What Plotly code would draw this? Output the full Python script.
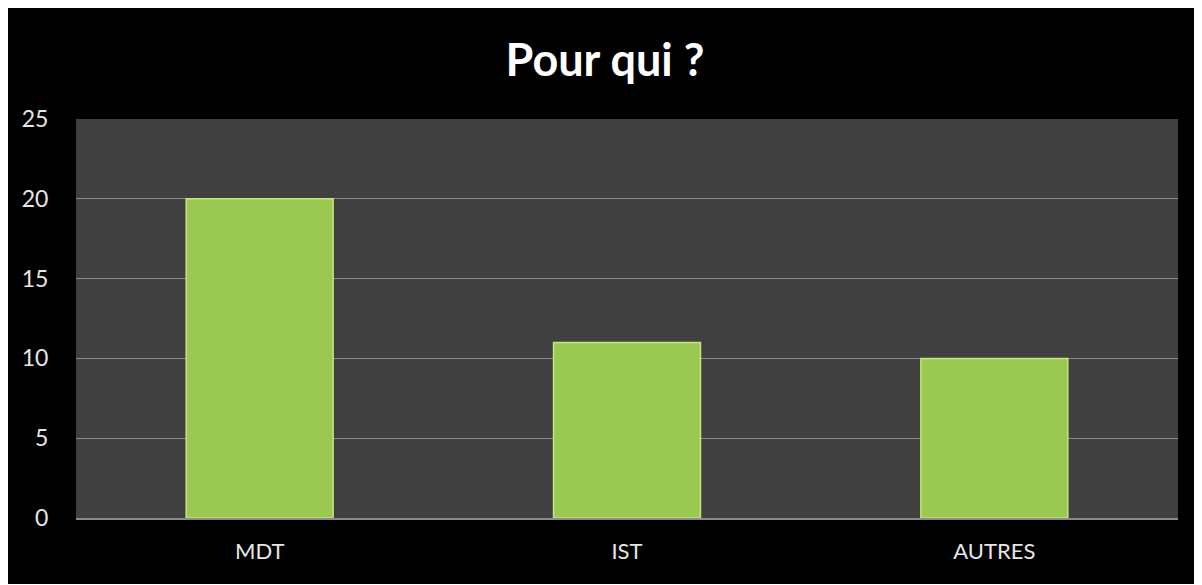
import plotly.graph_objects as go

# données
categories = ["MDT", "IST", "AUTRES"]
valeurs = [20, 11, 10]
y_ticks = [0, 5, 10, 15, 20, 25]

COULEURS = {
    "fond": "#000000",
    "zone": "#404040",
    "grille": "#8a8a8a",
    "texte": "#e6e6e6",
    "barre": "#9bc850",
    "bord": "#c6e57e",
}

fig = go.Figure()
fig.add_trace(go.Bar(
    x=categories, y=valeurs,
    width=0.4,
    marker=dict(color=COULEURS["barre"], line=dict(color=COULEURS["bord"], width=1.5)),
    showlegend=False,
))

fig.update_layout(
    title=dict(text="<b>Pour qui ?</b>", x=0.5, xanchor="center", y=0.91, yanchor="middle",
               font=dict(size=45, color="#ffffff", family="Lato, Open Sans, sans-serif")),
    width=1194, height=576,
    paper_bgcolor=COULEURS["fond"],
    plot_bgcolor=COULEURS["zone"],
    font=dict(family="Lato, Open Sans, sans-serif", color=COULEURS["texte"], size=20),
    margin=dict(l=68, r=24, t=111, b=66),
    bargap=0.6,
    xaxis=dict(showgrid=False, showline=True, linecolor=COULEURS["grille"], linewidth=1.5,
               ticks="outside", ticklen=13, tickcolor="rgba(0,0,0,0)",
               tickfont=dict(size=22)),
    yaxis=dict(range=[0, 25], tickvals=y_ticks, gridcolor=COULEURS["grille"], gridwidth=1,
               zeroline=False, ticks="outside", ticklen=22, tickcolor="rgba(0,0,0,0)",
               tickfont=dict(size=23)),
)

fig.write_html("out.html")
